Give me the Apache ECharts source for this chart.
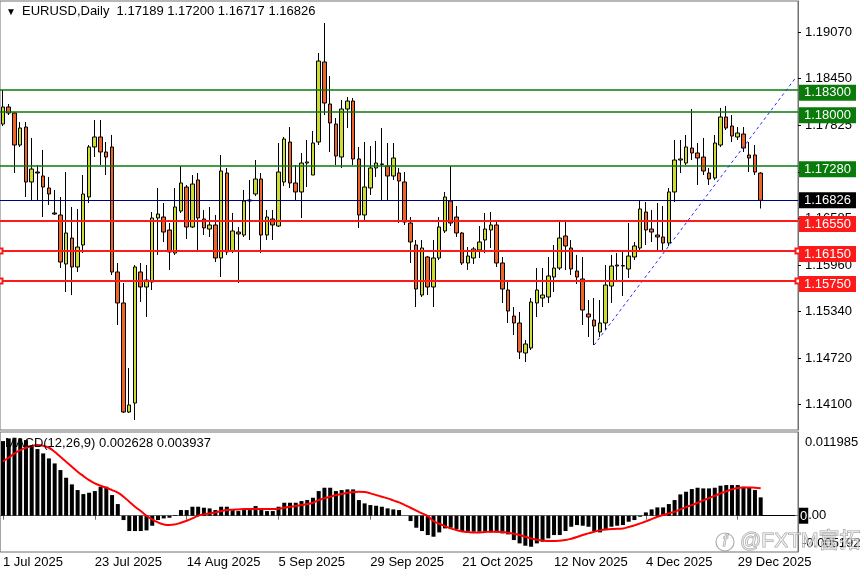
<!DOCTYPE html>
<html><head><meta charset="utf-8">
<script src="https://cdn.jsdelivr.net/npm/echarts@6/dist/echarts.min.js"></script>
<style>html,body{margin:0;padding:0;background:#fff}#c{width:864px;height:576px}</style>
</head><body><div id="c"></div>
<script>
// ---------- data ----------
const symbolName = 'EURUSD';
const periodName = 'Daily';
const opens = [1.17843,1.18070,1.17990,1.17563,1.17803,1.17070,1.17203,1.17150,1.16990,1.16657,
1.16630,1.15977,1.16323,1.15937,1.16230,1.16870,1.17537,1.17670,1.17470,1.17537,
1.15870,1.15457,1.14003,1.14123,1.15870,1.15670,1.15737,1.16590,1.16603,1.16430,
1.16123,1.16683,1.17003,1.16470,1.17097,1.16577,1.16443,1.16497,1.16057,1.17190,
1.16150,1.16403,1.16363,1.16817,1.16910,1.17110,1.16363,1.16577,1.16483,1.17070,
1.17603,1.17057,1.16937,1.17323,1.17163,1.17603,1.18670,1.18110,1.17843,1.17403,
1.18043,1.18150,1.17377,1.16630,1.16990,1.17257,1.17310,1.17283,1.17150,1.17190,
1.17070,1.16523,1.16230,1.15563,1.16070,1.15670,1.16057,1.16417,1.16817,1.16603,
1.16390,1.15990,1.16057,1.16163,1.16297,1.16430,1.16497,1.15990,1.15630,1.15283,
1.15190,1.14790,1.14857,1.15457,1.15523,1.15537,1.15803,1.15923,1.16350,1.16190,
1.15883,1.15777,1.15310,1.15230,1.15070,1.15190,1.15683,1.15950,1.15950,1.15910,
1.16070,1.16190,1.16670,1.16443,1.16363,1.16337,1.16257,1.16937,1.17363,1.17323,
1.17523,1.17457,1.17403,1.17190,1.17123,1.17563,1.17937,1.17817,1.17670,1.17710,
1.17430,1.17430,1.17189];
const highs = [1.18297,1.18110,1.18003,1.17870,1.17870,1.17657,1.17297,1.17497,1.17137,1.16963,
1.16870,1.17203,1.16737,1.16710,1.17163,1.17563,1.17897,1.17897,1.17603,1.17697,
1.15990,1.15723,1.14590,1.15963,1.15990,1.15963,1.16670,1.16990,1.16790,1.16523,
1.16990,1.17283,1.17030,1.17163,1.17190,1.16697,1.16737,1.16630,1.17430,1.17257,
1.16657,1.16470,1.16963,1.17097,1.17363,1.17190,1.16697,1.16697,1.17590,1.17670,
1.17803,1.17297,1.17457,1.17630,1.17750,1.18790,1.19190,1.18483,1.17923,1.18163,
1.18203,1.18190,1.17537,1.17603,1.17550,1.17617,1.17790,1.17590,1.17590,1.17257,
1.17203,1.16603,1.16297,1.16297,1.16083,1.16297,1.16603,1.16937,1.17283,1.16750,
1.16403,1.16203,1.16203,1.16483,1.16657,1.16670,1.16563,1.16070,1.15763,1.15403,
1.15337,1.14963,1.15523,1.15923,1.15923,1.16070,1.16230,1.16537,1.16537,1.16297,
1.16097,1.16070,1.15497,1.15523,1.15497,1.15963,1.16097,1.16123,1.16163,1.16523,
1.16270,1.16830,1.16803,1.16697,1.16790,1.16750,1.16990,1.17630,1.17630,1.17697,
1.18043,1.17590,1.17657,1.17257,1.17697,1.18057,1.18083,1.17963,1.17803,1.17803,
1.17603,1.17563,1.17200];
const lows = [1.17817,1.17963,1.17190,1.17537,1.16870,1.16830,1.16830,1.16603,1.16763,1.16630,
1.15923,1.15603,1.15563,1.15870,1.16123,1.16790,1.17403,1.17297,1.17163,1.15830,
1.15163,1.13990,1.13990,1.13897,1.15470,1.15270,1.15630,1.16097,1.16270,1.15897,
1.16097,1.16657,1.16310,1.16457,1.16163,1.16363,1.16337,1.16003,1.15803,1.16097,
1.16123,1.15723,1.16337,1.16297,1.16883,1.16123,1.16297,1.16297,1.16470,1.17017,
1.16990,1.16830,1.16590,1.17003,1.17163,1.17563,1.17963,1.17470,1.17297,1.17257,
1.17790,1.17297,1.16457,1.16537,1.16897,1.17137,1.16830,1.16830,1.17097,1.16523,
1.16497,1.15990,1.15403,1.15537,1.15563,1.15403,1.16030,1.16390,1.16483,1.16337,
1.15963,1.15897,1.15977,1.16057,1.16123,1.16190,1.15937,1.15457,1.15190,1.15030,
1.14710,1.14670,1.14830,1.15270,1.15403,1.15457,1.15603,1.15897,1.15897,1.15830,
1.15710,1.15163,1.15003,1.14897,1.15003,1.15097,1.15457,1.15763,1.15550,1.15790,
1.16030,1.16163,1.16230,1.16270,1.16163,1.16163,1.16217,1.16803,1.17190,1.17297,
1.17363,1.17030,1.17163,1.17030,1.17097,1.17537,1.17763,1.17603,1.17630,1.17470,
1.17203,1.17163,1.16717];
const closes = [1.18070,1.17990,1.17563,1.17790,1.17070,1.17243,1.17190,1.17003,1.16910,1.16643,
1.16003,1.16390,1.15937,1.16203,1.16910,1.17537,1.17670,1.17470,1.17403,1.15870,
1.15457,1.14003,1.14097,1.15937,1.15670,1.15763,1.16590,1.16643,1.16403,1.16137,
1.16737,1.17057,1.16470,1.17043,1.16590,1.16457,1.16497,1.16057,1.17217,1.16137,
1.16417,1.16377,1.16817,1.16830,1.17110,1.16363,1.16603,1.16497,1.17203,1.17643,
1.17057,1.16937,1.17323,1.17337,1.17590,1.18683,1.18123,1.17857,1.17417,1.18043,
1.18150,1.17377,1.16630,1.17003,1.17257,1.17323,1.17305,1.17150,1.17390,1.17083,
1.16537,1.16270,1.15643,1.16190,1.15670,1.16057,1.16470,1.16870,1.16523,1.16390,
1.15990,1.16083,1.16177,1.16270,1.16443,1.16497,1.15990,1.15643,1.15350,1.15190,
1.14803,1.14910,1.15470,1.15630,1.15563,1.15817,1.15923,1.16323,1.16217,1.15910,
1.15803,1.15363,1.15270,1.15150,1.15190,1.15697,1.15950,1.15963,1.15955,1.16083,
1.16217,1.16710,1.16430,1.16403,1.16337,1.16257,1.16937,1.17363,1.17377,1.17537,
1.17457,1.17390,1.17217,1.17110,1.17590,1.17937,1.17790,1.17683,1.17723,1.17523,
1.17390,1.17203,1.16826];
const macdMain = [0.010685,0.011066,0.011162,0.011066,0.010828,0.010112,0.00954,0.00892,0.008204,0.007489,
0.006535,0.005438,0.004484,0.003673,0.0031,0.003291,0.00353,0.00415,0.00415,0.002957,
0.00167,-0.00062,-0.002194,-0.002194,-0.002194,-0.002099,-0.001431,-0.00062,-0.000382,-0.000286,
0.000095,0.000811,0.000811,0.001288,0.001288,0.001145,0.00105,0.000811,0.001288,0.001288,
0.000811,0.000668,0.000811,0.000811,0.001383,0.000811,0.000668,0.000668,0.001288,0.00186,
0.00186,0.00186,0.002099,0.002242,0.002576,0.00353,0.004007,0.004007,0.00353,0.003673,
0.003768,0.003768,0.002242,0.001765,0.001526,0.001431,0.001288,0.00105,0.000906,0.000811,
0.00002,-0.000763,-0.001717,-0.002194,-0.002767,-0.003005,-0.002385,-0.001813,-0.001717,-0.001908,
-0.002194,-0.00229,-0.00229,-0.00229,-0.00229,-0.002385,-0.002385,-0.002528,-0.002671,-0.003482,
-0.003959,-0.004293,-0.004436,-0.003959,-0.003721,-0.003244,-0.002767,-0.002767,-0.002194,-0.001574,
-0.001336,-0.001431,-0.001574,-0.002194,-0.002385,-0.002051,-0.001574,-0.001431,-0.001336,-0.000859,
-0.00062,-0.000143,0.000477,0.000906,0.001193,0.001193,0.00167,0.002242,0.003053,0.003434,
0.003816,0.004007,0.003911,0.003911,0.004007,0.004293,0.004388,0.004388,0.004388,0.00415,
0.004007,0.003673,0.002628];
const macdSignal = [0.007823,0.0083,0.00892,0.009397,0.009731,0.009969,0.010112,0.010017,0.009731,0.009158,
0.008443,0.007727,0.007012,0.006296,0.005676,0.005104,0.004627,0.004293,0.004007,0.003673,
0.003291,0.002719,0.002003,0.001288,0.000668,0.0,-0.000525,-0.000954,-0.00124,-0.001336,
-0.00124,-0.001002,-0.000716,-0.000382,0.0,0.000191,0.000334,0.000477,0.000668,0.000811,
0.000859,0.000906,0.000954,0.000954,0.000954,0.000954,0.000954,0.000954,0.001002,0.001145,
0.001288,0.001383,0.001526,0.00167,0.00186,0.002242,0.00248,0.002719,0.002957,0.0031,
0.003291,0.003387,0.003434,0.003387,0.003196,0.002957,0.002719,0.00248,0.002194,0.001908,
0.001526,0.001145,0.000716,0.000334,-0.000048,-0.000763,-0.001145,-0.001479,-0.001813,-0.002051,
-0.002242,-0.002337,-0.002385,-0.002385,-0.002337,-0.00229,-0.00229,-0.002337,-0.002433,-0.002576,
-0.002767,-0.003005,-0.003244,-0.003434,-0.00353,-0.003625,-0.003625,-0.003578,-0.003482,-0.003291,
-0.003053,-0.002767,-0.002528,-0.00229,-0.002099,-0.001956,-0.001908,-0.00186,-0.001813,-0.001622,
-0.001383,-0.001097,-0.000811,-0.000477,-0.000143,0.000095,0.000334,0.000572,0.000906,0.00124,
0.001526,0.00186,0.002194,0.002528,0.002862,0.003196,0.003482,0.003768,0.003959,0.004055,
0.004055,0.004007,0.003937];
const dateTickLabels = ['1 Jul 2025','23 Jul 2025','14 Aug 2025','5 Sep 2025','29 Sep 2025','21 Oct 2025','12 Nov 2025','4 Dec 2025','29 Dec 2025'];
const priceTicks = [1.19070,1.18450,1.17825,1.17205,1.16585,1.15960,1.15340,1.14720,1.14100];
const greenLevels = [1.18300,1.18000,1.17280];
const bidLevel = 1.16826;
const redLevels = [1.16550];
const redHandleLevels = [1.16150,1.15750];
const trendAnchors = [103,116];          // trend line drawn through the lows of these bars
const macdRange = [-0.005192, 0.011985];
const priceRange = [1.137633, 1.194833];
const skipDays = ['2025-12-25','2026-01-01'];
const totalSlots = 139;

// ---------- categories (trading days) ----------
const MON = ['Jan','Feb','Mar','Apr','May','Jun','Jul','Aug','Sep','Oct','Nov','Dec'];
function tradingDays(n){
  const out=[]; const d=new Date(Date.UTC(2025,6,1));
  while(out.length<n){
    const wd=d.getUTCDay(); const iso=d.toISOString().slice(0,10);
    if(wd!==0 && wd!==6 && skipDays.indexOf(iso)<0) out.push(d.getUTCDate()+' '+MON[d.getUTCMonth()]+' '+d.getUTCFullYear());
    d.setUTCDate(d.getUTCDate()+1);
  }
  return out;
}
const categories = tradingDays(totalSlots);
const candles = opens.map((o,i)=>[o, closes[i], lows[i], highs[i]]);
const last = opens.length-1;
const f5 = v => (+v).toFixed(5);

// trend line through two lows, extended to the last slot
const [ta, tb] = trendAnchors;
const slope = (lows[tb]-lows[ta])/(tb-ta);
const trendEnd = lows[ta] + slope*(totalSlots-1-ta);

const FONT = '"Liberation Sans", Arial, sans-serif';
const GREEN='#0a7a0a', RED='#ff1a1a';
function levelLabel(bg, dy){
  return {show:true, position:'end', distance:1, formatter:p=>f5(p.value), color:'#fff',
    backgroundColor:bg, padding:[2,5,1,5], fontSize:13, fontFamily:FONT, offset:[0,dy]};
}
const hiddenLine = {color:'rgba(0,0,0,0)', width:0, type:'solid'};

const chart = echarts.init(document.getElementById('c'));
chart.setOption({
  animation:false,
  backgroundColor:'#ffffff',
  textStyle:{fontFamily:FONT},
  title:[
    {text:'▼', left:6, top:7, padding:0, textStyle:{fontSize:10, color:'#000', fontWeight:'normal'}},
    {text:symbolName+','+periodName+'  '+[opens[last],highs[last],lows[last],closes[last]].map(f5).join(' '),
     left:22, top:5, padding:0, textStyle:{fontSize:13, color:'#000', fontWeight:'normal', fontFamily:FONT}},
    {text:'MACD(12,26,9) '+macdMain[last].toFixed(6)+' '+macdSignal[last].toFixed(6),
     left:5, top:437, padding:0, textStyle:{fontSize:13, color:'#000', fontWeight:'normal', fontFamily:FONT}},
    {text:'@FXTM富拓', left:740, top:531, padding:0, z:20, textStyle:{fontSize:21, fontWeight:'normal', color:'rgba(255,255,255,0.55)',
      textBorderColor:'rgba(120,120,120,0.7)', textBorderWidth:1, fontFamily:'"Liberation Sans","Noto Sans CJK SC",sans-serif'}}
  ],
  graphic:[
    {type:'circle', shape:{cx:725, cy:542, r:9}, style:{fill:'none', stroke:'rgba(120,120,120,0.6)', lineWidth:1.2}, z:100},
    {type:'text', style:{text:'f', x:725, y:542, align:'center', verticalAlign:'middle', fontSize:16, fontStyle:'italic',
      fill:'rgba(255,255,255,0.5)', stroke:'rgba(120,120,120,0.7)', lineWidth:1}, z:100}
  ],
  grid:[
    {left:0, top:1, width:798, height:429, show:true, borderColor:'#707070', borderWidth:1, backgroundColor:'#fff'},
    {left:0, top:432, width:798, height:120, show:true, borderColor:'#707070', borderWidth:1, backgroundColor:'#fff'}
  ],
  xAxis:[
    {type:'category', gridIndex:0, data:categories, boundaryGap:true,
     axisLine:{show:false}, axisTick:{show:false}, axisLabel:{show:false}, splitLine:{show:false}},
    {type:'category', gridIndex:1, data:categories, boundaryGap:true,
     axisLine:{show:true, lineStyle:{color:'#707070'}},
     axisTick:{show:true, alignWithLabel:true, length:4, interval:(i,v)=>dateTickLabels.indexOf(v)>=0, lineStyle:{color:'#707070'}},
     axisLabel:{show:true, interval:(i,v)=>dateTickLabels.indexOf(v)>=0, align:'left', margin:4, fontSize:13, color:'#000', fontFamily:FONT},
     splitLine:{show:false}}
  ],
  yAxis:[
    {type:'value', gridIndex:0, position:'right', min:priceRange[0], max:priceRange[1], scale:true,
     axisLine:{show:true, lineStyle:{color:'#707070'}},
     axisTick:{show:true, length:3, customValues:priceTicks, lineStyle:{color:'#000'}},
     axisLabel:{show:true, customValues:priceTicks, formatter:v=>f5(v), margin:7, fontSize:13, color:'#000', fontFamily:FONT},
     splitLine:{show:false}},
    {type:'value', gridIndex:1, position:'right', min:macdRange[0], max:macdRange[1],
     axisLine:{show:true, lineStyle:{color:'#707070'}},
     axisTick:{show:false}, axisLabel:{show:false}, splitLine:{show:false}}
  ],
  series:[
    {type:'candlestick', name:'price', xAxisIndex:0, yAxisIndex:0, data:candles, barWidth:4,
     itemStyle:{color:'#cddc32', color0:'#f0642a', borderColor:'#000', borderColor0:'#000', borderWidth:1},
     markLine:{silent:true, symbol:'none', animation:false, precision:5,
       data:[
         ...greenLevels.map(v=>({yAxis:v, lineStyle:{color:GREEN, width:1.5, type:'solid'}, label:levelLabel('#0a7a0a',3)})),
         {yAxis:bidLevel, lineStyle:{color:'#000080', width:1, type:'solid'}, label:levelLabel('#000',0)},
         ...redLevels.map(v=>({yAxis:v, lineStyle:{color:RED, width:2, type:'solid'}, label:levelLabel('#ff1a1a',3)})),
         [{coord:[ta, lows[ta]], lineStyle:{color:'#2a2aff', width:1, type:[3,3]}, label:{show:false}},
          {coord:[totalSlots-1, trendEnd]}]
       ]}
    },
    {type:'line', name:'handles', xAxisIndex:0, yAxisIndex:0, data:[], silent:true,
     markLine:{silent:true, symbol:['emptyRect','emptyRect'], symbolSize:5, animation:false, precision:5,
       data: redHandleLevels.map(v=>({yAxis:v, lineStyle:{color:RED, width:2, type:'solid'}, label:levelLabel('#ff1a1a',3)}))}
    },
    {type:'bar', name:'MACD', xAxisIndex:1, yAxisIndex:1, data:macdMain, barWidth:4, itemStyle:{color:'#000'},
     markLine:{silent:true, symbol:'none', animation:false, precision:6,
       data:[
         [{coord:[last, 0], lineStyle:{color:'#000', width:1, type:'solid'}, label:{show:false}}, {coord:[totalSlots-1, 0]}],
         {yAxis:0, lineStyle:hiddenLine,
          label:{show:true, position:'end', distance:1, formatter:'{a|0}{b|.00}', fontSize:13, fontFamily:FONT,
            rich:{a:{color:'#fff', backgroundColor:'#000', padding:[2,1,1,1], fontSize:13, fontFamily:FONT}, b:{color:'#000', fontSize:13, fontFamily:FONT}}}},
         {yAxis:macdRange[1], lineStyle:hiddenLine,
          label:{show:true, position:'end', distance:7, formatter:p=>(+p.value).toFixed(6), color:'#000', fontSize:13, fontFamily:FONT, offset:[0,10]}},
         {yAxis:macdRange[0], lineStyle:hiddenLine,
          label:{show:true, position:'end', distance:4, formatter:p=>(+p.value).toFixed(6), color:'#000', fontSize:13, fontFamily:FONT, offset:[0,-9]}}
       ]}
    },
    {type:'line', name:'Signal', xAxisIndex:1, yAxisIndex:1, data:macdSignal, symbol:'none', smooth:true,
     lineStyle:{color:'#ff0000', width:2}, z:3}
  ]
});
</script>
</body></html>
